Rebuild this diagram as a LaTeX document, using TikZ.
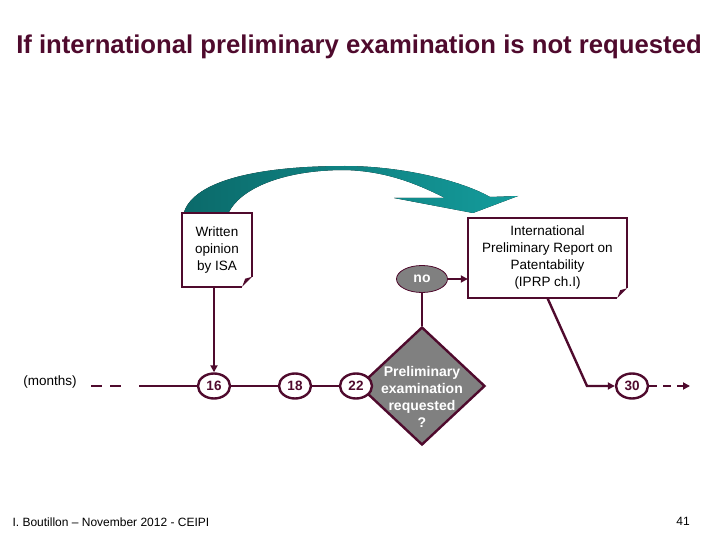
\documentclass[tikz,border=0pt]{standalone}
\usepackage{fontspec}
\setmainfont{Liberation Sans}
\usetikzlibrary{arrows.meta,shapes.geometric}
\definecolor{wine}{HTML}{4F0A2D}
\definecolor{boxgray}{HTML}{808080}
\definecolor{tealdark}{HTML}{0B6A6A}
\definecolor{teallight}{HTML}{149C9C}
\newcommand\dogear[1]{%
    \draw ([yshift=10pt]#1.south east) -- (#1.north east) -- (#1.north west)
        -- (#1.south west) -- ([xshift=-10pt]#1.south east);
    \fill[wine] ([xshift=-10pt]#1.south east) -- ([yshift=10pt]#1.south east)
        -- ([shift={(-7pt,8pt)}]#1.south east) -- cycle;}

\begin{document}
\begin{tikzpicture}[x=1pt,y=-1pt,line width=2.4pt,draw=wine,
        month/.style={ellipse,draw=wine,fill=white,inner sep=0pt,minimum width=32pt,
            minimum height=25pt,font=\fontsize{13.5}{15}\selectfont\bfseries,text=wine},
        note/.style={align=center,inner sep=0pt,font=\fontsize{13.5}{17}\selectfont},
        tip/.style={-{Triangle[length=7pt,width=7pt]}}]
    \useasboundingbox (0,0) rectangle (720,540);
    \node[font=\fontsize{25.7}{30}\selectfont\bfseries,text=wine] (title) at (359,47)
        {If international preliminary examination is not requested};

    \fill[left color=tealdark,right color=teallight]
        (184,212) .. controls (195,180) and (260,166) .. (345,166)
        .. controls (400,166) and (460,180) .. (490,197)
        -- (518,196) -- (473,213) -- (394,198) -- (445,198)
        .. controls (410,180) and (380,171) .. (345,170)
        .. controls (280,170) and (240,190) .. (229,212) -- cycle;

    \node[note,minimum width=68pt,minimum height=71pt] (isa) at (217,250)
        {Written\\opinion\\by ISA};
    \dogear{isa}
    \node[note,minimum width=157pt,minimum height=78pt] (iprp) at (547.5,258)
        {International\\Preliminary Report on\\Patentability\\(IPRP ch.I)};
    \dogear{iprp}

    \node[diamond,draw,fill=boxgray,inner sep=0pt,minimum width=126pt,minimum height=118pt]
        (ask) at (422,386) {};
    \node[note,text=white,font=\fontsize{14}{17}\selectfont\bfseries] (asktext) at (422,397)
        {Preliminary\\examination\\requested\\?};
    \node[ellipse,draw,line width=0.8pt,fill=boxgray,inner sep=0pt,minimum width=51pt,
        minimum height=27pt,text=white,font=\fontsize{14}{15}\selectfont\bfseries] (no) at (422,279) {no};

    \node[note] (months) at (50,382) {(months)};
    \node[month] (m16) at (214,386) {16};
    \node[month] (m18) at (295,386) {18};
    \node[month] (m22) at (356,386) {22};
    \node[month] (m30) at (632,386) {30};

    \coordinate (axisA) at (91,386);
    \coordinate (axisB) at (122,386);
    \coordinate (axisC) at (139,386);
    \coordinate (bend) at (587,386);
    \coordinate (arrowend) at (690,386);

    \draw[dash pattern=on 11pt off 8pt] (axisA) -- (axisB);
    \draw (axisC) -- (m16) -- (m18) -- (m22);
    \draw[tip] (isa.south -| m16.north) -- (m16.north);
    \draw (no) -- (ask.north);
    \draw[tip] (no) -- (no -| iprp.west);
    \draw[tip] (iprp.south) -- (bend) -- (m30);
    \draw[tip,dash pattern=on 8pt off 6pt] (m30) -- (arrowend);

    \node[anchor=west,font=\fontsize{12}{14}\selectfont] (foot) at (8,522)
        {I. Boutillon -- November 2012 - CEIPI};
    \node[font=\fontsize{12}{14}\selectfont] (page) at (683,521) {41};
\end{tikzpicture}
\end{document}
